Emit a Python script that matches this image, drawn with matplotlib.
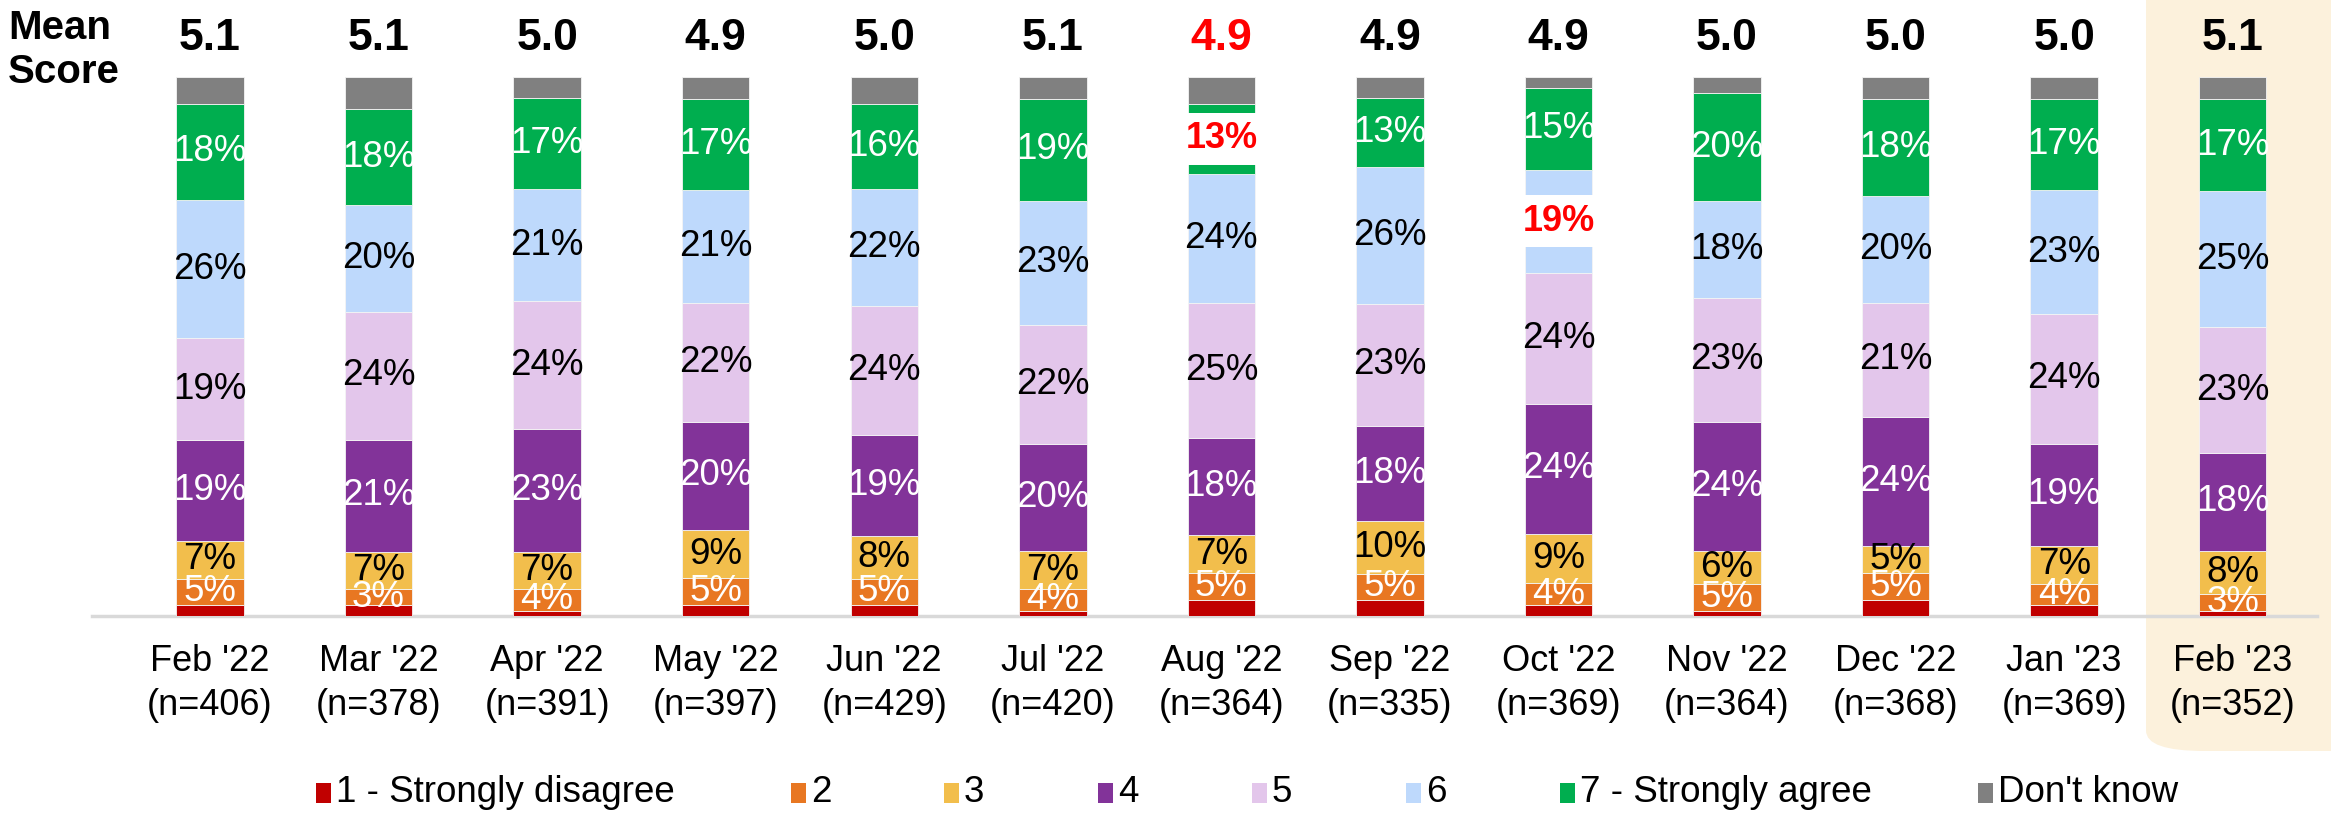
import matplotlib
matplotlib.use('Agg')
import matplotlib.pyplot as plt
import matplotlib.transforms as mtransforms
from matplotlib.patches import FancyBboxPatch, Rectangle
import numpy as np

plt.rcParams['font.family'] = ['Liberation Sans', 'DejaVu Sans']

# ---------------- data ----------------
months = ["Feb '22", "Mar '22", "Apr '22", "May '22", "Jun '22", "Jul '22", "Aug '22",
          "Sep '22", "Oct '22", "Nov '22", "Dec '22", "Jan '23", "Feb '23"]
n_values = [406, 378, 391, 397, 429, 420, 364, 335, 369, 364, 368, 369, 352]
mean_scores = [5.1, 5.1, 5.0, 4.9, 5.0, 5.1, 4.9, 4.9, 4.9, 5.0, 5.0, 5.0, 5.1]

s1_strongly_disagree = [2, 2, 1, 2, 2, 1, 3, 3, 2, 1, 3, 2, 1]
s2 = [5, 3, 4, 5, 5, 4, 5, 5, 4, 5, 5, 4, 3]
s3 = [7, 7, 7, 9, 8, 7, 7, 10, 9, 6, 5, 7, 8]
s4 = [19, 21, 23, 20, 19, 20, 18, 18, 24, 24, 24, 19, 18]
s5 = [19, 24, 24, 22, 24, 22, 25, 23, 24, 23, 21, 24, 23]
s6 = [26, 20, 21, 21, 22, 23, 24, 26, 19, 18, 20, 23, 25]
s7_strongly_agree = [18, 18, 17, 17, 16, 19, 13, 13, 15, 20, 18, 17, 17]
dont_know = [5, 6, 4, 4, 5, 4, 5, 4, 2, 3, 4, 4, 4]

series_names = ["1 - Strongly disagree", "2", "3", "4", "5", "6", "7 - Strongly agree", "Don't know"]
series = [s1_strongly_disagree, s2, s3, s4, s5, s6, s7_strongly_agree, dont_know]
colors = ["#C00000", "#E87722", "#F2BE4C", "#823399", "#E3C6EB", "#BED9FC", "#00AE4F", "#808080"]
label_colors = [None, "white", "black", "white", "black", "black", "white", None]

# highlighted (significant) labels: (month index, series index)
highlights = [(6, 6), (8, 5)]
mean_highlight = [6]

# ---------------- figure ----------------
W, H = 2331, 813
fig = plt.figure(figsize=(W / 100, H / 100), dpi=100)

# highlight panel for latest month
panel = FancyBboxPatch((2146 / W, 62 / H), 400 / W, 900 / H,
                       boxstyle="round,pad=0,rounding_size=0.025",
                       transform=fig.transFigure, facecolor="#FCF1DC",
                       edgecolor="none", zorder=-5)
fig.patches.append(panel)

ax = fig.add_axes([92 / W, (H - 616) / H, (2317 - 92) / W, (616 - 77) / H])
ax.patch.set_alpha(0)
ax.set_zorder(1)

x = np.arange(len(months))
data = np.array(series, dtype=float)
totals = data.sum(axis=0)
norm = data / totals * 100.0
bottoms = np.zeros(len(months))
bw = 0.40

for si in range(len(series)):
    ax.bar(x, norm[si], bw, bottom=bottoms, color=colors[si],
           edgecolor="#F4F4F4", linewidth=0.6, zorder=2)
    if label_colors[si] is not None:
        for i in range(len(months)):
            yc = bottoms[i] + norm[si][i] / 2
            txt = f"{series[si][i]}%"
            if (i, si) in highlights:
                ax.text(x[i], yc, txt, ha="center", va="center", fontsize=26,
                        color="#FF0000", fontweight="bold", zorder=4,
                        bbox=dict(facecolor="white", edgecolor="none", pad=6))
            else:
                ax.text(x[i], yc, txt, ha="center", va="center", fontsize=26.5,
                        color=label_colors[si], zorder=3)
    bottoms += norm[si]

ax.set_xlim(-0.7, 12.5)
ax.set_ylim(0, 100)
ax.set_yticks([])
for sp in ["top", "right", "left"]:
    ax.spines[sp].set_visible(False)
ax.spines["bottom"].set_color("#D9D9D9")
ax.spines["bottom"].set_linewidth(2.5)
ax.spines["bottom"].set_zorder(1)

ax.set_xticks(x)
ax.set_xticklabels([f"{m}\n(n={n})" for m, n in zip(months, n_values)], fontsize=26)
ax.tick_params(axis="x", length=0, pad=20)
for lab in ax.get_xticklabels():
    lab.set_linespacing(1.36)

# mean scores
trans = mtransforms.blended_transform_factory(ax.transData, fig.transFigure)
for i, m in enumerate(mean_scores):
    ax.text(x[i], (H - 38) / H, f"{m:.1f}", transform=trans, ha="center", va="center",
            fontsize=32, fontweight="bold",
            color="#FF0000" if i in mean_highlight else "black")
fig.text(8 / W, (H - 50) / H, "Mean\nScore", ha="left", va="center", fontsize=29,
         fontweight="bold", linespacing=1.22)

# legend (manual)
legend_x = [323, 798, 951, 1105, 1259, 1413, 1567, 1985]
for lx, name, c in zip(legend_x, series_names, colors):
    fig.patches.append(Rectangle(((lx - 7) / W, (H - 803) / H), 15 / W, 20 / H,
                                 transform=fig.transFigure, facecolor=c, edgecolor="none"))
    fig.text((lx + 13) / W, (H - 792) / H, name, ha="left", va="center", fontsize=26.5)

fig.savefig("out.png", dpi=100)
